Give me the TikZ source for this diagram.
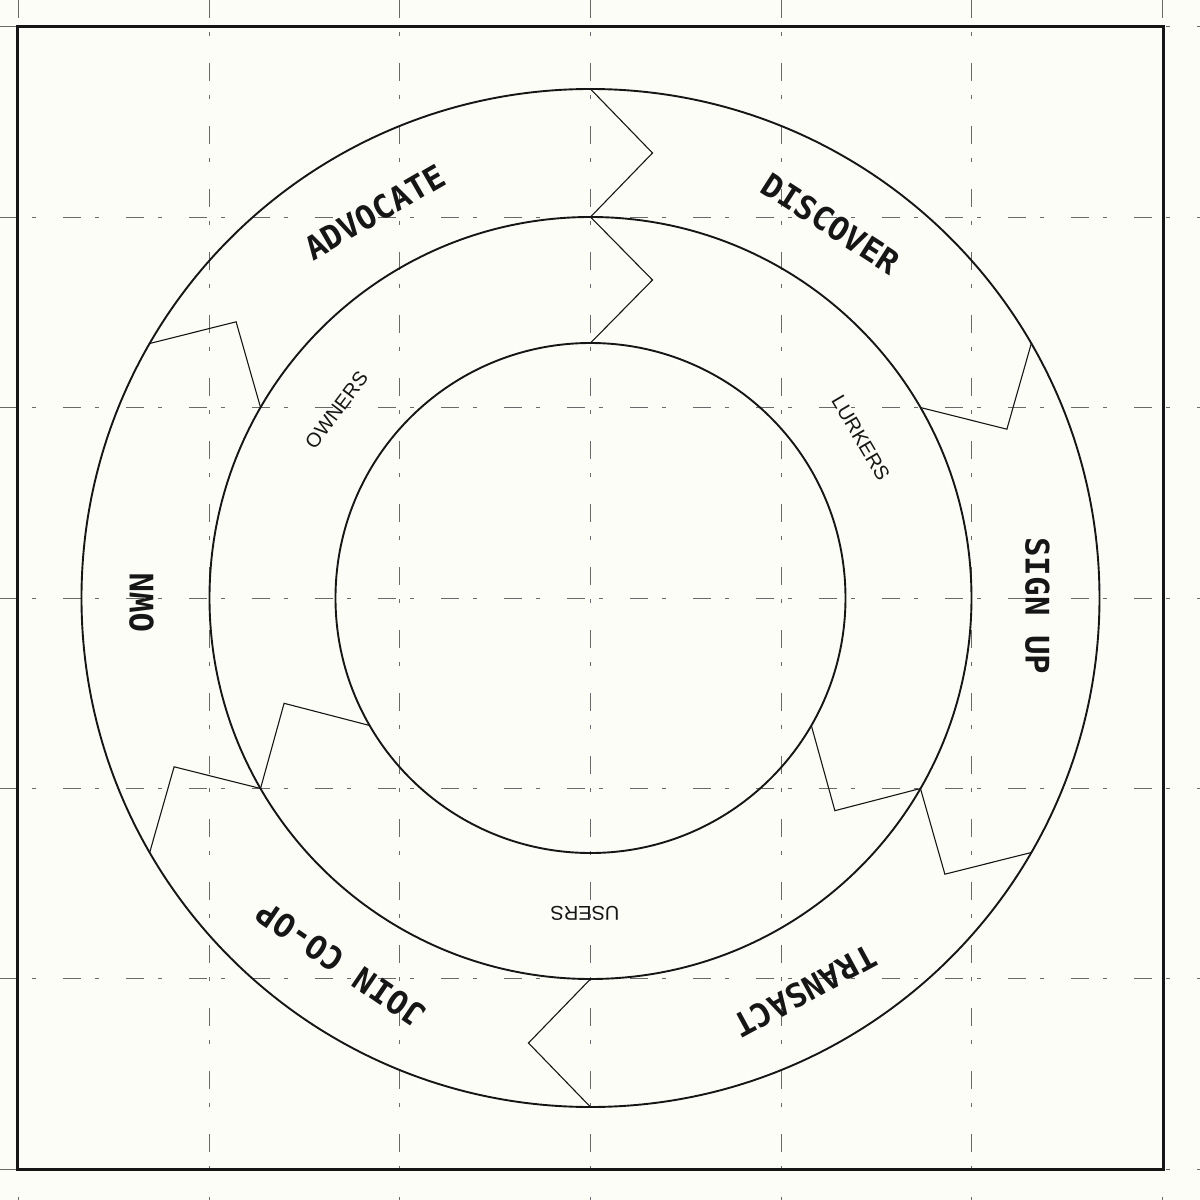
\documentclass[tikz,border=0pt]{standalone}
\usepackage{fontspec}
\newfontfamily\stagefont{DejaVu Sans Mono}
\newfontfamily\groupfont{Liberation Sans}
\usetikzlibrary{calc}
\definecolor{paper}{RGB}{253,253,248}
\definecolor{ink}{RGB}{22,22,22}
\definecolor{gridc}{RGB}{105,105,105}
\begin{document}
\begin{tikzpicture}[x=1pt,y=1pt,
  ring/.style={draw=ink, line width=1.9pt},
  chev/.style={draw=ink, line width=1.1pt, line join=miter},
  gridline/.style={draw=gridc, line width=0.8pt, dash pattern=on 18pt off 14pt on 4pt off 27pt},
  framebox/.style={draw=ink, line width=3pt},
  stage/.style={font=\stagefont\bfseries\fontsize{32.5}{33}\selectfont, text=ink, inner sep=0pt},
  group/.style={font=\groupfont\fontsize{20}{20}\selectfont, text=ink, inner sep=0pt}]

\fill[paper] (-590.5,-602) rectangle (609.5,598);
\useasboundingbox (-590.5,-602) rectangle (609.5,598);

% construction grid
\foreach \k in {-3,...,3} {
  \draw[gridline] (\k*190.6, 598) -- (\k*190.6, -602);
  \draw[gridline] (-590.5, \k*190.4) -- (609.5, \k*190.4);
}

% frame
\draw[framebox] (-572.5,-571) rectangle (572.5,571);

% rings
\draw[ring] (0,0) circle (509);
\draw[ring] (0,0) circle (381);
\draw[ring] (0,0) circle (255);

% chevrons of the outer ring
\foreach \t in {90,30,-30,-90,210,150} {
  \coordinate (oa) at (\t:509);
  \coordinate (ob) at ($(\t:445)+(\t-90:62)$);
  \coordinate (oc) at (\t:381);
  \draw[chev] (oa) -- (ob) -- (oc);
}
% chevrons of the middle ring
\foreach \t in {90,-30,210} {
  \coordinate (ma) at (\t:381);
  \coordinate (mb) at ($(\t:318)+(\t-90:62)$);
  \coordinate (mc) at (\t:255);
  \draw[chev] (ma) -- (mb) -- (mc);
}

% stage labels
\node[stage, rotate=30]     (advocate) at (119.2:442) {ADVOCATE};
\node[stage, rotate=-32.7]  (discover) at (57.3:445) {DISCOVER};
\node[stage, rotate=-90]    (signup)   at (-1:447) {SIGN UP};
\node[stage, rotate=-151.5] (transact) at (-61.4:448) {TRANSACT};
\node[stage, rotate=145.7]  (joincoop) at (235.7:443) {JOIN CO-OP};
\node[stage, rotate=90]     (own)      at (180.6:449) {OWN};

% group labels
\node[group, rotate=53]    (owners)  at (143.5:316) {OWNERS};
\node[group, rotate=-59.5] (lurkers) at (30.6:314) {LURKERS};
\node[group, rotate=180]   (users)   at (-91:315) {USERS};
\end{tikzpicture}
\end{document}
